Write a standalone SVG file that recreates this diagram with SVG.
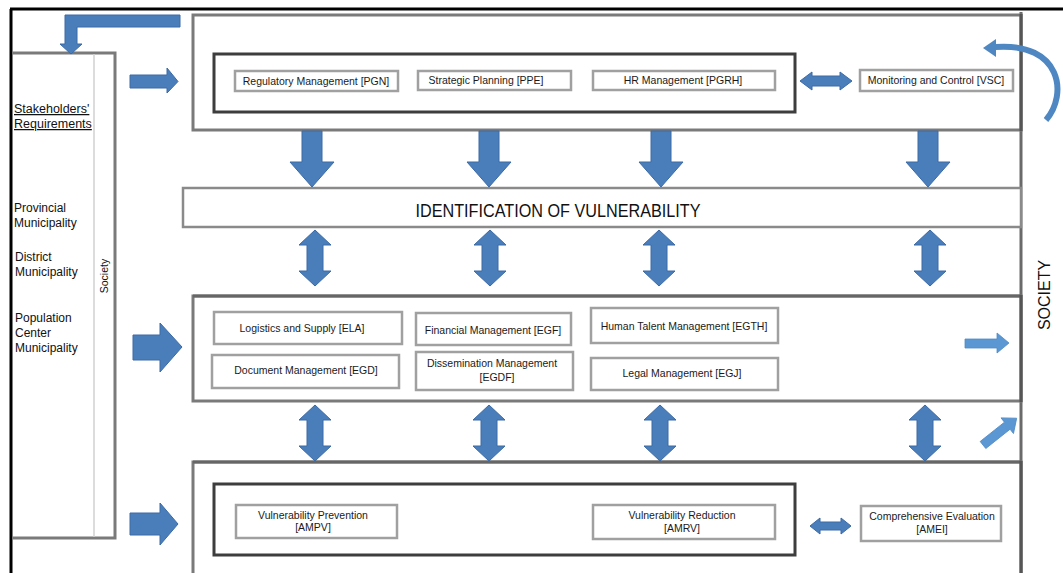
<svg xmlns="http://www.w3.org/2000/svg" xmlns:xlink="http://www.w3.org/1999/xlink" width="1063" height="573" viewBox="0 0 1063 573">
<style>
.frame{fill:none;stroke:#000;stroke-width:3}
.outer{fill:#fff;stroke:#7a7a7a;stroke-width:3}
.inner{fill:none;stroke:#3d3d3d;stroke-width:3}
.small{fill:#fff;stroke:#a0a0a0;stroke-width:2.5}
.lbl{font-family:"Liberation Sans",Arial,sans-serif;font-size:10.5px;fill:#1a1a1a;text-anchor:middle}
.side{font-family:"Liberation Sans",Arial,sans-serif;font-size:12px;fill:#111}
.blue{fill:#4a7ebb;stroke:#3b6aa6;stroke-width:1}
.light{fill:#5b97d2;stroke:#4f8ac6;stroke-width:0.8}
</style>
<defs>
<polygon id="down" points="-10,0 10,0 10,31 22,31 0,56 -22,31 -10,31"/>
<polygon id="dbl" points="0,0 16,15 8,15 8,41 16,41 0,56 -16,41 -8,41 -8,15 -16,15"/>
</defs>
<rect width="1063" height="573" fill="#fff"/>
<g id="frame">
<line class="frame" x1="10" y1="9" x2="1063" y2="9"/>
<line class="frame" x1="11" y1="9" x2="11" y2="573"/>
<line x1="1021" y1="12" x2="1021" y2="573" stroke="#6a6a6a" stroke-width="3"/>
</g>
<g id="left-column">
<path d="M12,53 H115 V538 H12" fill="none" stroke="#7a7a7a" stroke-width="3"/>
<line x1="94" y1="54" x2="94" y2="537" stroke="#d0d0d0" stroke-width="1.5"/>
<text class="side" x="14" y="113" style="font-size:12.5px" fill="#1c1c4a" text-decoration="underline">Stakeholders'</text>
<text class="side" x="14" y="128" style="font-size:12.5px" text-decoration="underline">Requirements</text>
<text class="side" x="14" y="212">Provincial</text>
<text class="side" x="14" y="227">Municipality</text>
<text class="side" x="15" y="261">District</text>
<text class="side" x="15" y="276">Municipality</text>
<text class="side" x="15" y="322">Population</text>
<text class="side" x="15" y="337">Center</text>
<text class="side" x="15" y="352">Municipality</text>
<text class="side" style="font-size:10.5px" transform="translate(108,276) rotate(-90)" text-anchor="middle">Society</text>
</g>
<g id="society">
<text style="font-family:'Liberation Sans',Arial,sans-serif;font-size:16px;fill:#111" transform="translate(1050,295) rotate(-90)" text-anchor="middle">SOCIETY</text>
</g>
<g id="top-box">
<rect class="outer" x="193" y="15" width="828" height="115"/>
<line x1="1021" y1="14" x2="1021" y2="131" stroke="#555" stroke-width="3"/>
<rect class="inner" x="214" y="54" width="581" height="58"/>
</g>
<g id="pgn"><rect class="small" x="235" y="71" width="163" height="20"/><text class="lbl" x="316" y="85">Regulatory Management [PGN]</text></g>
<g id="ppe"><rect class="small" x="418" y="71" width="153" height="19"/><text class="lbl" x="486" y="84">Strategic Planning [PPE]</text></g>
<g id="pgrh"><rect class="small" x="593" y="71" width="182" height="19"/><text class="lbl" x="683" y="84">HR Management [PGRH]</text></g>
<g id="vsc"><rect class="small" x="860" y="70" width="153" height="21"/><text class="lbl" x="936" y="84">Monitoring and Control [VSC]</text></g>
<g id="identification">
<rect x="183" y="188" width="838" height="39" fill="#fff" stroke="#8a8a8a" stroke-width="2.5"/>
<text x="558" y="217" textLength="285" lengthAdjust="spacingAndGlyphs" style="font-family:'Liberation Sans',Arial,sans-serif;font-size:18px;fill:#111" text-anchor="middle">IDENTIFICATION OF VULNERABILITY</text>
</g>
<g id="middle-box">
<rect class="outer" x="193" y="296" width="828" height="105"/>
<line x1="193" y1="296" x2="1021" y2="296" stroke="#666" stroke-width="3"/>
<line x1="1021" y1="295" x2="1021" y2="402" stroke="#555" stroke-width="3"/>
</g>
<g id="ela"><rect class="small" x="214" y="312" width="188" height="32"/><text class="lbl" x="302" y="332">Logistics and Supply [ELA]</text></g>
<g id="egd"><rect class="small" x="212" y="355" width="187" height="33"/><text class="lbl" x="306" y="374">Document Management [EGD]</text></g>
<g id="egf"><rect class="small" x="416" y="313" width="155" height="32"/><text class="lbl" x="493" y="334">Financial Management [EGF]</text></g>
<g id="egdf"><rect class="small" x="416" y="352" width="157" height="38"/><text class="lbl" x="492" y="367">Dissemination Management</text><text class="lbl" x="497" y="381">[EGDF]</text></g>
<g id="egth"><rect class="small" x="591" y="308" width="187" height="35"/><text class="lbl" x="684" y="330">Human Talent Management [EGTH]</text></g>
<g id="egj"><rect class="small" x="591" y="358" width="187" height="32"/><text class="lbl" x="682" y="377">Legal Management [EGJ]</text></g>
<g id="bottom-box">
<path d="M193,573 V462 H1021 V573" fill="#fff" stroke="#7a7a7a" stroke-width="3"/>
<line x1="193" y1="462" x2="1021" y2="462" stroke="#666" stroke-width="3"/>
<line x1="1021" y1="461" x2="1021" y2="573" stroke="#555" stroke-width="3"/>
<rect class="inner" x="214" y="484" width="581" height="71"/>
</g>
<g id="ampv"><rect class="small" x="236" y="505" width="161" height="33"/><text class="lbl" x="313" y="519">Vulnerability Prevention</text><text class="lbl" x="313" y="531">[AMPV]</text></g>
<g id="amrv"><rect class="small" x="593" y="505" width="182" height="34"/><text class="lbl" x="682" y="519">Vulnerability Reduction</text><text class="lbl" x="682" y="532">[AMRV]</text></g>
<g id="amei"><rect class="small" x="861" y="506" width="140" height="35"/><text class="lbl" x="932" y="520">Comprehensive Evaluation</text><text class="lbl" x="932" y="533">[AMEI]</text></g>
<g id="connectors">
<polygon class="blue" points="180,15 180,27 77,27 77,44 82,44 71,54 60,44 65,44 65,15"/>
<polygon class="blue" points="130,75 167,75 167,68 178,81.5 167,93 167,88 130,88"/>
<polygon class="blue" points="133,335 160,335 160,323 182,347 160,372 160,360 133,360"/>
<polygon class="blue" points="130,513 160,513 160,503 178,524 160,545 160,535 130,535"/>
<use href="#down" class="blue" x="312" y="131"/>
<use href="#down" class="blue" x="489" y="131"/>
<use href="#down" class="blue" x="661" y="131"/>
<use href="#down" class="blue" x="928" y="131"/>
<use href="#dbl" class="blue" x="315" y="230"/>
<use href="#dbl" class="blue" x="490" y="230"/>
<use href="#dbl" class="blue" x="659" y="230"/>
<use href="#dbl" class="blue" x="930" y="230"/>
<use href="#dbl" class="blue" x="315" y="405"/>
<use href="#dbl" class="blue" x="489" y="405"/>
<use href="#dbl" class="blue" x="660" y="405"/>
<use href="#dbl" class="blue" x="925" y="405"/>
<polygon class="blue" points="800,81 812,72 812,76 840,76 840,72 852,81 840,90 840,86 812,86 812,90"/>
<polygon class="blue" points="810,526 820,518 820,522 841,522 841,518 851,526 841,534 841,530 820,530 820,534"/>
<polygon class="light" points="965,339 997,339 997,333 1009,343 997,353 997,348 965,348"/>
<polygon class="light" transform="translate(983,445) rotate(-38.5)" points="0,-4.5 31,-4.5 31,-10 43,0 31,10 31,4.5 0,4.5"/>
<path d="M1046,120 C1068,95 1062,42 995,47" fill="none" stroke="#4f87c2" stroke-width="6"/>
<polygon fill="#4f87c2" points="983,48 996,39 996,57"/>
</g>
</svg>
